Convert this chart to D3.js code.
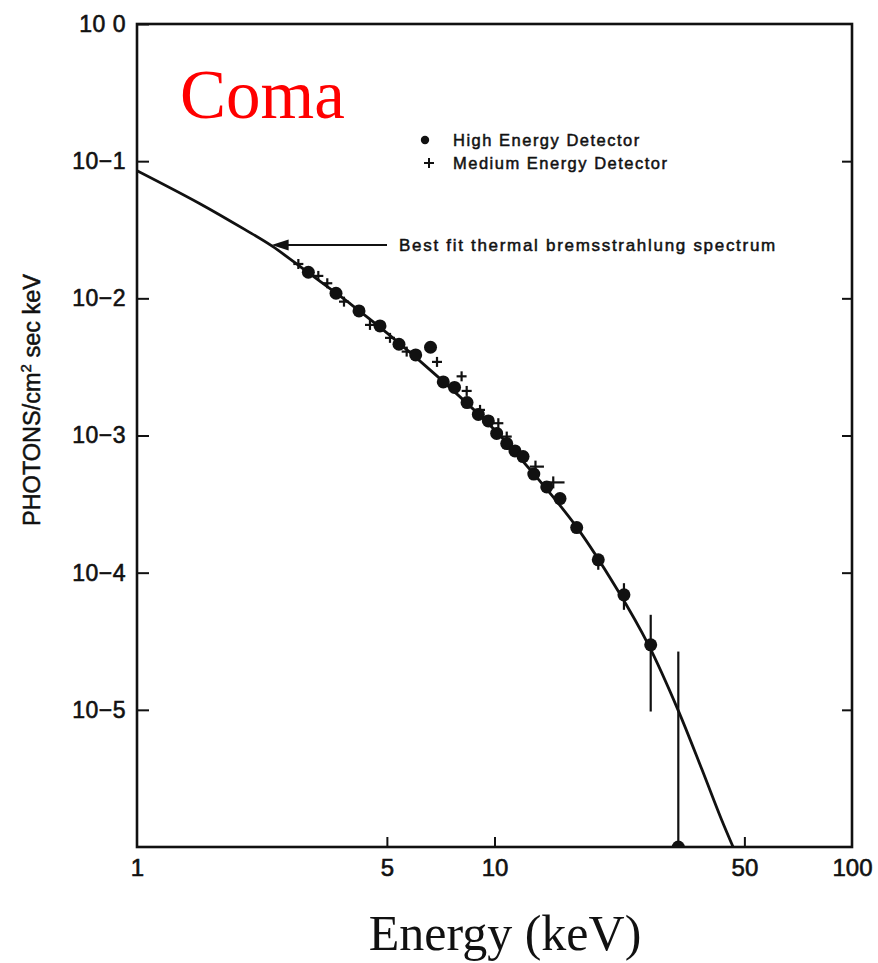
<!DOCTYPE html>
<html>
<head>
<meta charset="utf-8">
<script src="https://cdn.jsdelivr.net/npm/d3@7"></script>
<style>
  html, body { margin: 0; padding: 0; background: #ffffff; }
  svg { display: block; }
</style>
</head>
<body>
<svg id="chart" width="878" height="963"></svg>
<script>
// ---- data ----
const xTickValues = [1, 5, 10, 50, 100];
const xTickLabels = ["1", "5", "10", "50", "100"];
const yTickValues = [1, 1e-1, 1e-2, 1e-3, 1e-4, 1e-5];
const yTickLabels = ["10 0", "10\u22121", "10\u22122", "10\u22123", "10\u22124", "10\u22125"];

// best fit thermal bremsstrahlung curve
const curveE = [1, 1.5, 2, 2.4, 3, 4, 5, 7, 10, 13, 17, 22, 27, 32.6, 38, 43, 46.5];
const curveF = [0.0853, 0.049, 0.0318, 0.0238, 0.0155, 0.0089, 0.0056, 0.00263, 0.0011,
                5.1e-4, 2.14e-4, 7.6e-5, 2.95e-5, 1.0e-5, 3.7e-6, 1.62e-6, 1.0e-6];

// High Energy Detector (filled circles)
const hedE = [3.015, 3.603, 4.178, 4.783, 5.405, 6.02, 6.622, 7.19, 7.73, 8.38, 9.01, 9.61,
              10.14, 10.82, 11.41, 12.02, 12.88, 14.0, 15.25, 16.98, 19.51, 23.02, 27.35, 32.67];
const hedF = [0.01549, 0.01089, 0.00809, 0.00629, 0.004627, 0.003869, 0.004401, 0.002459,
              0.002242, 0.001737, 0.001425, 0.001278, 0.001036, 0.000873, 0.000772, 0.000702,
              0.000523, 0.000422, 0.000347, 0.000213, 0.000124, 6.89e-5, 2.98e-5, 1.0e-6];
const hedLo = [null, null, null, null, null, null, null, null, null, null, null, null,
               null, null, null, null, null, null, null, null, 1.05e-4, 5.36e-5, 9.72e-6, 1.0e-6];
const hedHi = [null, null, null, null, null, null, null, null, null, null, null, null,
               null, null, null, null, null, null, null, null, 1.35e-4, 8.38e-5, 4.93e-5, 2.66e-5];

// Medium Energy Detector (plus signs)
const medE = [2.827, 3.215, 3.406, 3.793, 4.484, 5.101, 5.68, 6.905, 8.09, 8.36, 9.11, 10.25, 10.82, 13.02, 14.6];
const medF = [0.0178, 0.01457, 0.01288, 0.00946, 0.0064, 0.00515, 0.00409, 0.00344, 0.0027,
              0.002113, 0.001537, 0.001229, 0.000982, 0.000593, 0.000455];
const medElo = [null, null, null, null, null, null, null, null, null, null, null, null, null, 12.55, 14.0];
const medEhi = [null, null, null, null, null, null, null, null, null, null, null, null, null, 13.75, 15.7];

const arrowTargetE = 2.38;
const arrowTargetF = 0.0245;

// ---- layout ----
const L = 137, R = 852, T = 24, B = 847;
const svg = d3.select("#chart");
const sans = "'Liberation Sans', Arial, Helvetica, sans-serif";
const serif = "'Liberation Serif', 'Times New Roman', serif";
const ink = "#111";

const x = d3.scaleLog().domain([1, 100]).range([L, R]);
const y = d3.scaleLog().domain([1e-6, 1]).range([B, T]);

svg.append("defs").append("clipPath").attr("id", "plotclip")
  .append("rect").attr("x", L).attr("y", T).attr("width", R - L).attr("height", B - T);

function heavy(sel, w) {
  return sel.attr("stroke", ink).attr("stroke-width", w).attr("paint-order", "stroke");
}

// axes
const xAxis = d3.axisBottom(x).tickValues(xTickValues)
  .tickFormat((d, i) => xTickLabels[i]).tickSizeInner(-10).tickSizeOuter(0).tickPadding(12);
const gx = svg.append("g").attr("transform", `translate(0,${B})`).call(xAxis);
gx.select(".domain").remove();
gx.selectAll(".tick line").attr("stroke", ink).attr("stroke-width", 2)
  .attr("opacity", d => (d === 1 || d === 100) ? 0 : 1);
heavy(gx.selectAll(".tick text").attr("font-family", sans).attr("font-size", 24).attr("fill", ink), 0.6);

const yAxis = d3.axisLeft(y).tickValues(yTickValues)
  .tickFormat((d, i) => yTickLabels[i]).tickSizeInner(-12).tickSizeOuter(0).tickPadding(11);
const gy = svg.append("g").attr("transform", `translate(${L},0)`).call(yAxis);
gy.select(".domain").remove();
gy.selectAll(".tick line").attr("stroke", ink).attr("stroke-width", 2);
heavy(gy.selectAll(".tick text").attr("font-family", sans).attr("font-size", 23)
  .attr("fill", ink).attr("letter-spacing", 0.5), 0.6);

const yAxisR = d3.axisRight(y).tickValues(yTickValues.slice(1))
  .tickFormat("").tickSizeInner(-10).tickSizeOuter(0);
const gyr = svg.append("g").attr("transform", `translate(${R},0)`).call(yAxisR);
gyr.select(".domain").remove();
gyr.selectAll(".tick line").attr("stroke", ink).attr("stroke-width", 2);

// frame
svg.append("rect").attr("x", L).attr("y", T).attr("width", R - L).attr("height", B - T)
  .attr("fill", "none").attr("stroke", ink).attr("stroke-width", 2.6);

const plot = svg.append("g").attr("clip-path", "url(#plotclip)");

// curve
const curveData = curveE.map((e, i) => [e, curveF[i]]);
plot.append("path").datum(curveData)
  .attr("d", d3.line().x(d => x(d[0])).y(d => y(d[1])).curve(d3.curveCatmullRom.alpha(0.5)))
  .attr("fill", "none").attr("stroke", ink).attr("stroke-width", 2.8);

// HED error bars
hedE.forEach((e, i) => {
  if (hedLo[i] !== null) {
    plot.append("line").attr("x1", x(e)).attr("x2", x(e))
      .attr("y1", y(hedLo[i])).attr("y2", y(hedHi[i]))
      .attr("stroke", ink).attr("stroke-width", 2.2);
  }
});

// MED pluses
medE.forEach((e, i) => {
  const cx = x(e), cy = y(medF[i]);
  const x1 = medElo[i] !== null ? x(medElo[i]) : cx - 5;
  const x2 = medEhi[i] !== null ? x(medEhi[i]) : cx + 5;
  const v = medElo[i] !== null ? 6 : 5;
  plot.append("line").attr("x1", x1).attr("x2", x2).attr("y1", cy).attr("y2", cy)
    .attr("stroke", ink).attr("stroke-width", 2.2);
  plot.append("line").attr("x1", cx).attr("x2", cx).attr("y1", cy - v).attr("y2", cy + v)
    .attr("stroke", ink).attr("stroke-width", 2.2);
});

// HED circles
plot.selectAll("circle.hed").data(hedE.map((e, i) => [e, hedF[i]])).enter()
  .append("circle").attr("class", "hed")
  .attr("cx", d => x(d[0])).attr("cy", d => y(d[1])).attr("r", 6.5).attr("fill", ink);

// legend
svg.append("circle").attr("cx", 425).attr("cy", 140).attr("r", 4.2).attr("fill", ink);
svg.append("line").attr("x1", 424).attr("x2", 434).attr("y1", 163).attr("y2", 163)
  .attr("stroke", ink).attr("stroke-width", 2);
svg.append("line").attr("x1", 429).attr("x2", 429).attr("y1", 158).attr("y2", 168)
  .attr("stroke", ink).attr("stroke-width", 2);
heavy(svg.append("text").attr("x", 453).attr("y", 146).text("High Energy Detector")
  .attr("font-family", sans).attr("font-size", 16.5).attr("letter-spacing", 1.5).attr("fill", ink), 0.5);
heavy(svg.append("text").attr("x", 453).attr("y", 169).text("Medium Energy Detector")
  .attr("font-family", sans).attr("font-size", 16.5).attr("letter-spacing", 1.5).attr("fill", ink), 0.5);

// arrow annotation
const ax = x(arrowTargetE), ay = y(arrowTargetF);
svg.append("line").attr("x1", ax + 4).attr("x2", 387).attr("y1", ay).attr("y2", ay)
  .attr("stroke", ink).attr("stroke-width", 2);
svg.append("path")
  .attr("d", `M${ax},${ay} L${ax + 17},${ay - 5.5} L${ax + 17},${ay + 5.5} Z`)
  .attr("fill", ink);
heavy(svg.append("text").attr("x", 399).attr("y", ay + 6).text("Best fit thermal bremsstrahlung spectrum")
  .attr("font-family", sans).attr("font-size", 17).attr("letter-spacing", 1.7).attr("fill", ink), 0.5);

// titles
svg.append("text").attr("x", 180).attr("y", 118).text("Coma")
  .attr("font-family", serif).attr("font-size", 69).attr("fill", "#ff0000");

svg.append("text").attr("x", 505).attr("y", 950).attr("text-anchor", "middle").text("Energy (keV)")
  .attr("font-family", serif).attr("font-size", 50).attr("fill", ink);

const yl = svg.append("text").attr("transform", "translate(40,400) rotate(-90)")
  .attr("text-anchor", "middle").attr("font-family", sans).attr("font-size", 23.5).attr("fill", ink);
heavy(yl, 0.5);
yl.append("tspan").text("PHOTONS/cm");
yl.append("tspan").attr("font-size", 15).attr("dy", -9).text("2");
yl.append("tspan").attr("dy", 9).text(" sec keV");
</script>
</body>
</html>
